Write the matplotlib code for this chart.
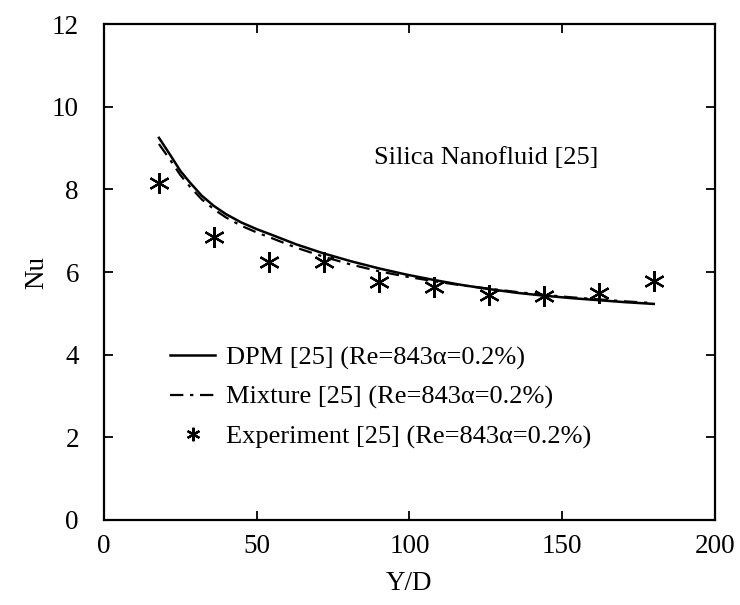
import matplotlib
matplotlib.use("Agg")
import matplotlib.pyplot as plt

plt.rcParams['font.family'] = ['Liberation Serif', 'DejaVu Serif']

# values
yd_line = [18, 22, 25, 28, 32, 36, 40, 45, 50, 55, 63, 72, 81, 90, 99, 108, 117, 126, 135, 144, 153, 162, 171, 180]
nu_dpm = [9.25, 8.8, 8.45, 8.18, 7.85, 7.6, 7.4, 7.2, 7.04, 6.9, 6.67, 6.45, 6.26, 6.09, 5.94, 5.81, 5.69, 5.59, 5.5, 5.43, 5.37, 5.32, 5.27, 5.23]
nu_mixture = [9.1, 8.68, 8.35, 8.08, 7.76, 7.52, 7.32, 7.12, 6.96, 6.82, 6.59, 6.37, 6.18, 6.02, 5.89, 5.78, 5.68, 5.6, 5.52, 5.45, 5.39, 5.34, 5.29, 5.25]

yd_exp = [18, 36, 54, 72, 90, 108, 126, 144, 162, 180]
nu_exp = [8.15, 6.85, 6.25, 6.25, 5.75, 5.65, 5.45, 5.42, 5.5, 5.78]

fig = plt.figure(figsize=(7.4, 6.05), dpi=100)
ax = fig.add_axes([0.1405, 0.1405, 0.8255, 0.8195])

ax.plot(yd_line, nu_dpm, color='black', lw=1.8, label='DPM [25] (Re=843α=0.2%)')
ax.plot(yd_line, nu_mixture, color='black', lw=1.6, ls=(0, (6, 3, 1.5, 3)),
        label='Mixture [25] (Re=843α=0.2%)')
ax.plot(yd_exp, nu_exp, ls='none', marker=(6, 2, 0), ms=15, mew=1.6, color='black',
        label='Experiment [25] (Re=843α=0.2%)')

ax.set_xlim(0, 200)
ax.set_ylim(0, 12)
ax.set_xticks([0, 50, 100, 150, 200])
ax.set_yticks([0, 2, 4, 6, 8, 10, 12])
ax.tick_params(direction='in', length=6.5, width=1.3, top=True, right=True,
               labelsize=19.5)
ax.tick_params(axis='y', pad=18)
ax.tick_params(axis='x', pad=10)
for s in ax.spines.values():
    s.set_linewidth(1.6)

ax.set_xlabel('Y/D', fontsize=19.5, labelpad=9)
ax.set_ylabel('Nu', fontsize=19.5, labelpad=2)

ax.text(125, 8.77, 'Silica Nanofluid [25]', fontsize=19, ha='center', va='center')

ax.legend(loc='lower left', bbox_to_anchor=(0.07, 0.095), frameon=False, fontsize=19,
          handlelength=1.7, handletextpad=0.4, labelspacing=0.6, markerscale=0.65)

fig.savefig('out.png', dpi=100)
